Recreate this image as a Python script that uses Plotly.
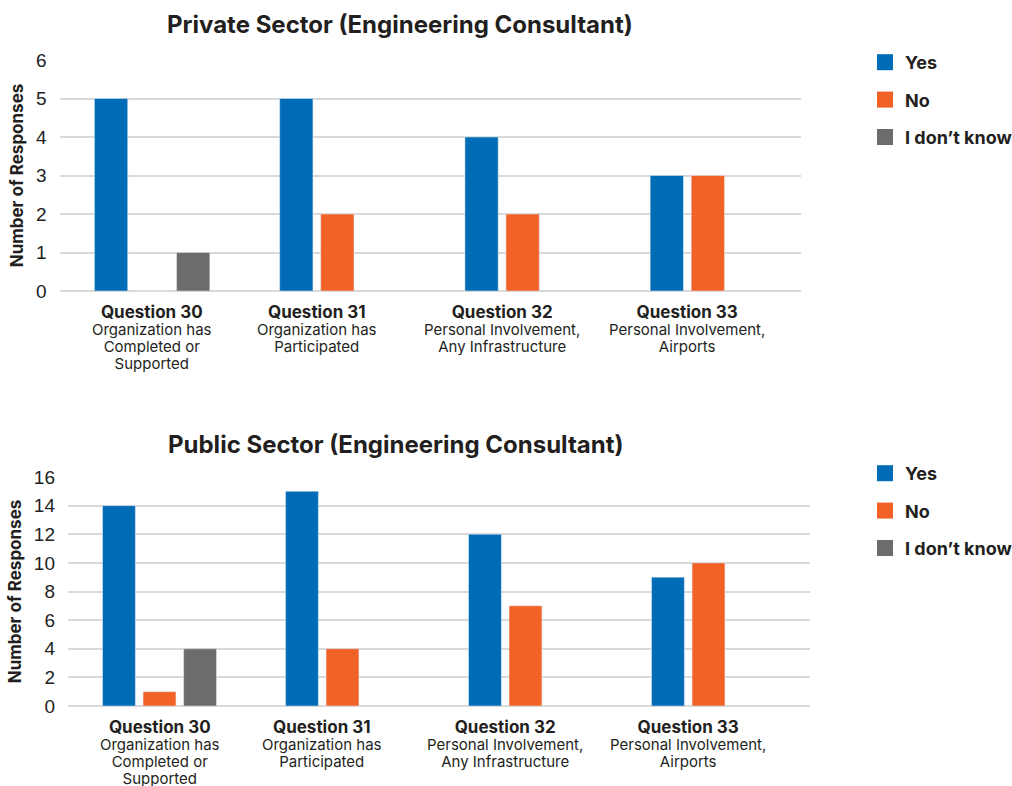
import plotly.graph_objects as go

# ---- data -------------------------------------------------------------
categories = ["Question 30", "Question 31", "Question 32", "Question 33"]
descriptions = [
    ["Organization has", "Completed or", "Supported"],
    ["Organization has", "Participated"],
    ["Personal Involvement,", "Any Infrastructure"],
    ["Personal Involvement,", "Airports"],
]
series_names = ["Yes", "No", "I don\u2019t know"]

private_yes = [5, 5, 4, 3]
private_no = [0, 2, 2, 3]
private_idk = [1, None, None, None]

public_yes = [14, 15, 12, 9]
public_no = [1, 4, 7, 10]
public_idk = [4, None, None, None]

# ---- styling ----------------------------------------------------------
W, H = 1012, 786
COLORS = ["#006BB6", "#F26125", "#6D6B6C"]
TEXT = "#231F20"
GRID = "#D9D9D9"
FONT = "Inter"
BARGAP = 0.335
BARGROUPGAP = 0.19
PITCH = 183.0  # px per category in the wider lower panel

panels = [
    dict(title="Private Sector (Engineering Consultant)",
         values=[private_yes, private_no, private_idk],
         ax="", ymax=6, dtick=1, legend="legend",
         xdom=(59.5, 800.5), ydom=(60, 291), title_pos=(400, 24), legend_top=44),
    dict(title="Public Sector (Engineering Consultant)",
         values=[public_yes, public_no, public_idk],
         ax="2", ymax=16, dtick=2, legend="legend2",
         xdom=(68, 810), ydom=(477, 706), title_pos=(396, 444), legend_top=455),
]

fig = go.Figure()
annotations = []
slot = (1 - BARGAP) / len(series_names)

for p in panels:
    xa, ya = "x" + p["ax"], "y" + p["ax"]
    for name, color, vals in zip(series_names, COLORS, p["values"]):
        fig.add_trace(go.Bar(x=categories, y=vals, name=name, marker_color=color,
                             xaxis=xa, yaxis=ya, showlegend=False))
        # legend swatch for this series
        fig.add_trace(go.Scatter(x=[None], y=[None], mode="markers", name=name,
                                 marker=dict(symbol="square", size=18, color=color),
                                 xaxis=xa, yaxis=ya, legend=p["legend"],
                                 legendgroup=name))

    # category labels centred under the bars that are present
    idk = p["values"][2]
    for i, (cat, desc) in enumerate(zip(categories, descriptions)):
        shift = 0 if idk[i] is not None else -slot / 2
        lines = [f"<span style='font-size:17px'><b>{cat}</b></span>"]
        lines += [f"<span style='font-size:15px'>{t}</span>" for t in desc]
        annotations.append(dict(
            x=i + shift, y=0, xref=xa, yref=ya + " domain",
            yanchor="top", yshift=-9, showarrow=False, align="center",
            text="<br>".join(lines),
            font=dict(family=FONT, size=13, color=TEXT)))

    tx, ty = p["title_pos"]
    annotations.append(dict(
        x=tx / W, y=1 - ty / H, xref="paper", yref="paper",
        xanchor="center", yanchor="middle", showarrow=False,
        text=f"<b>{p['title']}</b>", font=dict(family=FONT, size=24, color=TEXT)))

    x0, x1 = p["xdom"]
    y0, y1 = p["ydom"]
    span = 4.0 if p["ax"] == "" else (x1 - x0) / PITCH
    fig.update_layout({
        "xaxis" + p["ax"]: dict(domain=[x0 / W, x1 / W], anchor=ya, type="category",
                                range=[-0.5, -0.5 + span], showgrid=False,
                                showticklabels=False, zeroline=False, showline=False,
                                fixedrange=True),
        "yaxis" + p["ax"]: dict(domain=[1 - y1 / H, 1 - y0 / H], anchor=xa,
                                range=[0, p["ymax"]], dtick=p["dtick"],
                                gridcolor=GRID, gridwidth=2, zeroline=True,
                                zerolinecolor=GRID, zerolinewidth=2, showline=False,
                                ticks="", ticklabelstandoff=12, automargin=False,
                                tickfont=dict(family="Liberation Sans", size=19,
                                              color="#222222"),
                                title=dict(text="<b>Number of Responses</b>",
                                           standoff=7,
                                           font=dict(family=FONT, size=17, color=TEXT)),
                                fixedrange=True),
    })

legend_style = dict(font=dict(family=FONT, size=18, color=TEXT, weight="bold"),
                    xanchor="left", yanchor="top", tracegroupgap=11,
                    itemclick=False, itemdoubleclick=False, bgcolor="rgba(0,0,0,0)")

fig.update_layout(
    width=W, height=H,
    margin=dict(l=0, r=0, t=0, b=0, autoexpand=False),
    paper_bgcolor="white", plot_bgcolor="white",
    barmode="group", bargap=BARGAP, bargroupgap=BARGROUPGAP,
    annotations=annotations,
    legend=dict(x=865 / W, y=1 - panels[0]["legend_top"] / H, **legend_style),
    legend2=dict(x=865 / W, y=1 - panels[1]["legend_top"] / H, **legend_style),
)

fig.write_html("out.html")
